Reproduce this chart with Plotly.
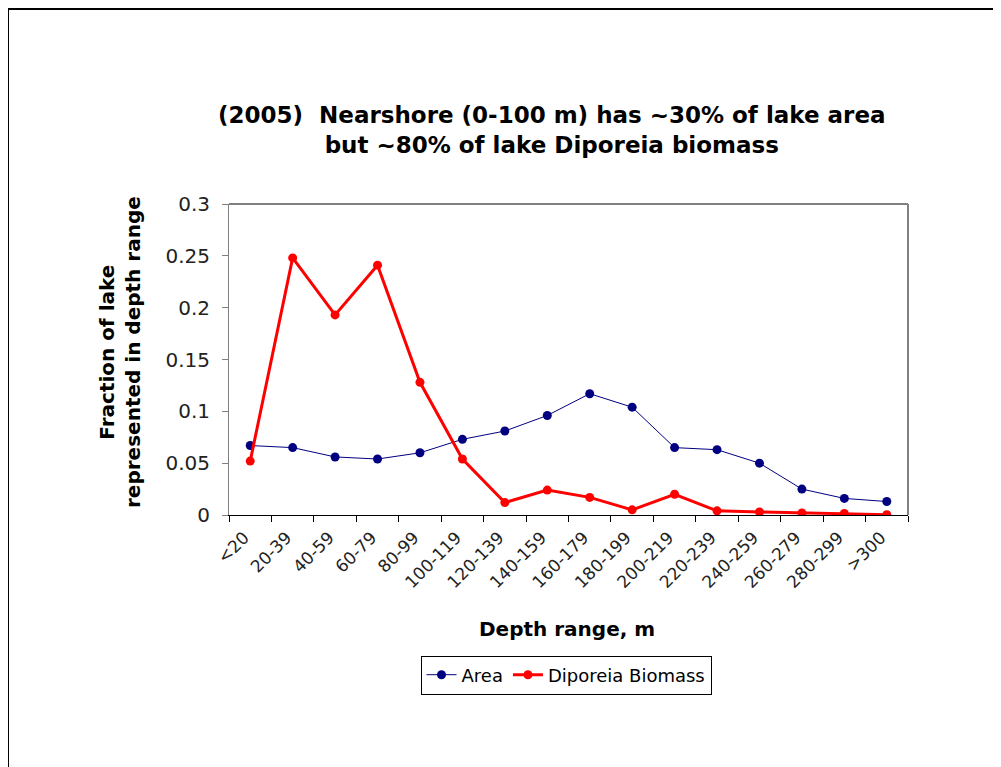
import plotly.graph_objects as go

categories = ["<20", "20-39", "40-59", "60-79", "80-99", "100-119", "120-139", "140-159",
              "160-179", "180-199", "200-219", "220-239", "240-259", "260-279", "280-299", ">300"]
area = [0.067, 0.065, 0.056, 0.054, 0.060, 0.073, 0.081, 0.096,
        0.117, 0.104, 0.065, 0.063, 0.050, 0.025, 0.016, 0.013]
biomass = [0.052, 0.248, 0.193, 0.241, 0.128, 0.054, 0.012, 0.024,
           0.017, 0.005, 0.020, 0.004, 0.003, 0.002, 0.0015, 0.0003]
yticks = [0, 0.05, 0.1, 0.15, 0.2, 0.25, 0.3]
ytick_text = ["0", "0.05", "0.1", "0.15", "0.2", "0.25", "0.3"]

W, H = 1001, 767
OFF = 8  # page body margin offset
L, R, T, B = 229 - OFF, 908 - OFF, 204 - OFF, 515 - OFF
pw, ph = R - L, B - T

def px(x):
    return (x - OFF - L) / pw

def py(y):
    return (B - (y - OFF)) / ph

FONT = "DejaVu Sans, Liberation Sans, Arial, sans-serif"

fig = go.Figure()
fig.add_trace(go.Scatter(x=categories, y=area, name="Area", mode="lines+markers",
                         line=dict(color="#000080", width=1),
                         marker=dict(color="#000080", size=9)))
fig.add_trace(go.Scatter(x=categories, y=biomass, name="Diporeia Biomass", mode="lines+markers",
                         line=dict(color="#FF0000", width=3),
                         marker=dict(color="#FF0000", size=9)))

fig.update_layout(
    width=W, height=H,
    margin=dict(l=L, r=W - R, t=T, b=H - B, autoexpand=False),
    paper_bgcolor="white", plot_bgcolor="white",
    font=dict(family=FONT, color="#000000"),
    showlegend=True,
    legend=dict(orientation="h", x=px(566), y=py(675), xanchor="center", yanchor="middle",
                bordercolor="#000000", borderwidth=1, bgcolor="white",
                font=dict(family=FONT, size=18, color="#000000"),
                itemwidth=30, tracegroupgap=0),
    xaxis=dict(type="category", range=[-0.5, 15.5], tickson="boundaries",
               ticks="outside", ticklen=6, tickcolor="#000000", tickwidth=1,
               showline=True, linecolor="#000000", linewidth=1,
               mirror=False, showgrid=False, zeroline=False,
               ticklabelstandoff=5, ticklabelshift=-6,
               tickangle=-45, tickfont=dict(family=FONT, size=17, color="#222222")),
    yaxis=dict(range=[0, 0.3], tickvals=yticks, ticktext=ytick_text,
               ticks="outside", ticklen=6, tickcolor="#808080",
               showline=True, linecolor="#808080", linewidth=1,
               showgrid=False, zeroline=False, ticklabelstandoff=8,
               tickfont=dict(family=FONT, size=20, color="#222222")),
)

# top and right plot borders (gray)
fig.add_shape(type="line", xref="paper", yref="paper", x0=0, x1=1, y0=1, y1=1,
              line=dict(color="#808080", width=2))
fig.add_shape(type="line", xref="paper", yref="paper", x0=1, x1=1, y0=0, y1=1,
              line=dict(color="#808080", width=2))

# outer frame (only left/top visible in the picture)
fig.add_shape(type="rect", xref="paper", yref="paper",
              x0=px(8), x1=px(1100), y0=py(900), y1=py(OFF + 1),
              line=dict(color="#000000", width=2))

fig.add_annotation(text="<b>(2005)  Nearshore (0-100 m) has ~30% of lake area<br>but ~80% of lake Diporeia biomass</b>",
                   xref="paper", yref="paper", x=px(552), y=py(130),
                   xanchor="center", yanchor="middle", showarrow=False,
                   font=dict(family=FONT, size=23, color="#000000"))
fig.add_annotation(text="<b>Fraction of lake<br>represented in depth range</b>",
                   xref="paper", yref="paper", x=px(120), y=py(352),
                   xanchor="center", yanchor="middle", showarrow=False, textangle=-90,
                   font=dict(family=FONT, size=20, color="#000000"))
fig.add_annotation(text="<b>Depth range, m</b>",
                   xref="paper", yref="paper", x=px(567), y=py(629),
                   xanchor="center", yanchor="middle", showarrow=False,
                   font=dict(family=FONT, size=20, color="#000000"))

fig.write_html("out.html")
